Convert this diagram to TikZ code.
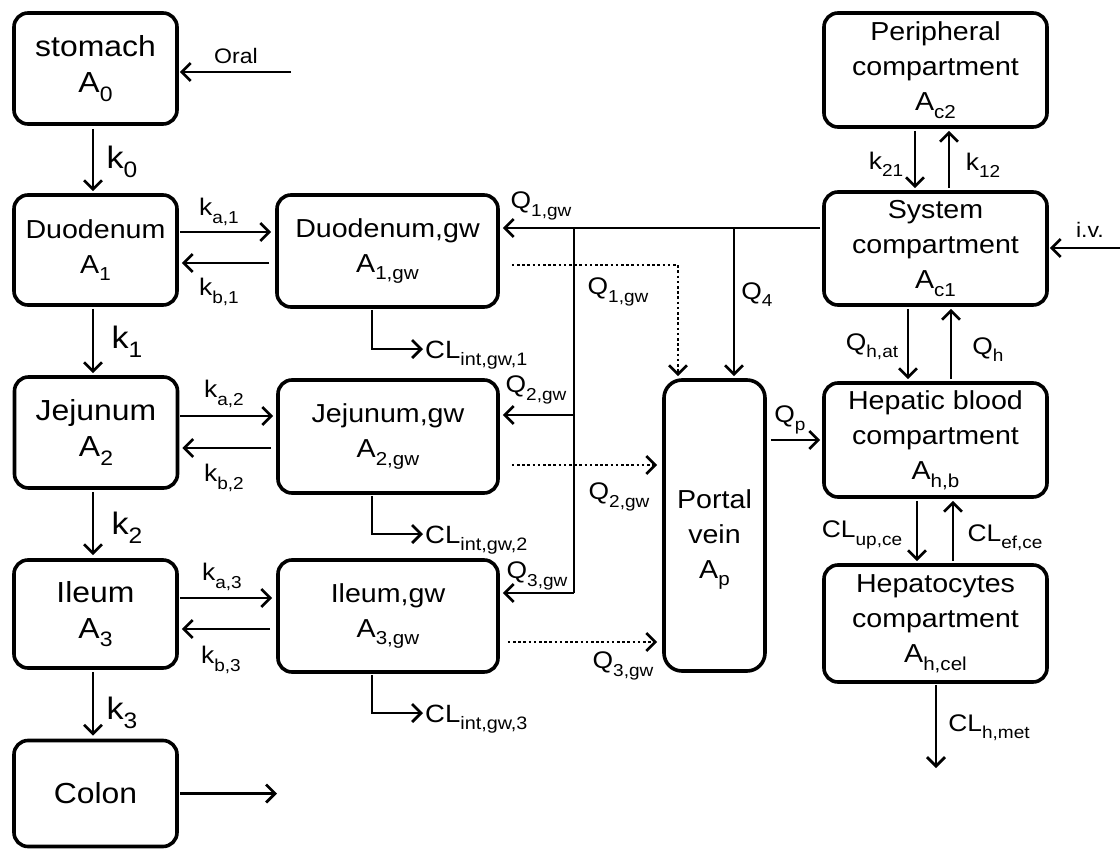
\documentclass[tikz,border=0pt]{standalone}
\usepackage{graphicx}
\usepackage{fontspec}
\setmainfont{Liberation Sans}[FakeStretch=1.1]
\usetikzlibrary{arrows.meta,calc}
\newcommand\lowsub[1]{\raisebox{-0.3em}{\scalebox{0.72}{#1}}}
\newcommand\fbig{\fontsize{29}{36}\selectfont}
\newcommand\fmed{\fontsize{26}{35}\selectfont}
\newcommand\fkk{\fontsize{31}{36}\selectfont}
\newcommand\flab{\fontsize{24}{28}\selectfont}
\newcommand\fcl{\fontsize{25}{28}\selectfont}
\newcommand\fsm{\fontsize{21}{26}\selectfont}
\tikzset{
  box/.style={draw, line width=3.6pt, rounded corners=14pt, inner sep=0pt, align=center},
  bigbox/.style={box, font=\fbig, minimum width=163pt},
  medbox/.style={box, font=\fmed},
  flow/.style={line width=2.7pt, -{Straight Barb[length=9pt,width=18pt]}},
  plain/.style={line width=2.7pt},
  dflow/.style={flow, dash pattern=on 2.6pt off 2.6pt},
  lab/.style={font=\flab, inner sep=0pt},
  klab/.style={font=\fkk, inner sep=0pt},
  cllab/.style={font=\fcl, inner sep=0pt, anchor=base west},
}
\begin{document}
\begin{tikzpicture}[x=1pt,y=-1pt]
\useasboundingbox (0,0) rectangle (1120,849);

% left column
\node[bigbox, minimum height=111pt] (stomach) at (95.5,68.5) {stomach\\A\lowsub{0}};
\node[medbox, minimum width=163pt, minimum height=110pt] (duo) at (95.5,250) {Duodenum\\A\lowsub{1}};
\node[bigbox, minimum height=111pt] (jej) at (96,432.5) {Jejunum\\A\lowsub{2}};
\node[bigbox, minimum height=108pt] (ile) at (95.5,614) {Ileum\\A\lowsub{3}};
\node[bigbox, minimum height=106pt] (colon) at (95.5,793.5) {Colon};

% gut wall column
\node[medbox, minimum width=221pt, minimum height=112pt] (dgw) at (387.5,251) {Duodenum,gw\\A\lowsub{1,gw}};
\node[medbox, minimum width=220pt, minimum height=113pt] (jgw) at (388,436.5) {Jejunum,gw\\A\lowsub{2,gw}};
\node[medbox, minimum width=220pt, minimum height=112pt] (igw) at (388,616) {Ileum,gw\\A\lowsub{3,gw}};

% portal vein
\node[box, rounded corners=18pt, minimum width=101pt, minimum height=291pt,
      label={[font=\fmed, align=center, yshift=-14pt]center:Portal\\vein\\A\lowsub{p}}] (portal) at (714.5,525.5) {};

% right column
\node[medbox, minimum width=223pt, minimum height=114pt] (peri) at (935.5,70) {Peripheral\\compartment\\A\lowsub{c2}};
\node[medbox, minimum width=223pt, minimum height=113pt] (sys) at (935.5,248.5) {System\\compartment\\A\lowsub{c1}};
\node[medbox, minimum width=223pt, minimum height=114pt] (hep) at (935.5,440) {Hepatic blood\\compartment\\A\lowsub{h,b}};
\node[medbox, minimum width=223pt, minimum height=117pt] (hcel) at (935.5,623.5) {Hepatocytes\\compartment\\A\lowsub{h,cel}};

% helper coordinates
\coordinate (lx) at (93,0);
\coordinate (oral) at (291,72);
\coordinate (colonout) at (277,793.5);
\coordinate (ya1) at (0,232);
\coordinate (yb1) at (0,263);
\coordinate (ya2) at (0,416);
\coordinate (yb2) at (0,448);
\coordinate (ya3) at (0,598);
\coordinate (yb3) at (0,629);
\coordinate (clx) at (372,0);
\coordinate (jn1) at (574,228);
\coordinate (jn4) at (734,228);
\coordinate (jn3) at (574,593);
\coordinate (yq2) at (0,415);
\coordinate (yd1) at (0,265);
\coordinate (dx) at (678,0);
\coordinate (yd2) at (0,465);
\coordinate (yd3) at (0,642);
\coordinate (yqp) at (0,440);
\coordinate (x21) at (915,0);
\coordinate (x12) at (949,0);
\coordinate (iv) at (1120,248);
\coordinate (xhat) at (908,0);
\coordinate (xh) at (951,0);
\coordinate (xup) at (917,0);
\coordinate (xef) at (953,0);
\coordinate (met) at (936,768);
\coordinate (xm) at (936,0);

% left column flows
\draw[flow, shorten >=1pt] (oral) -- (stomach.east |- oral);
\draw[flow, shorten <=3pt, shorten >=2pt] (stomach.south -| lx) -- (duo.north -| lx);
\draw[flow, shorten <=2pt, shorten >=2pt] (duo.south -| lx) -- (jej.north -| lx);
\draw[flow, shorten <=2pt, shorten >=3pt] (jej.south -| lx) -- (ile.north -| lx);
\draw[flow, shorten <=2pt, shorten >=3pt] (ile.south -| lx) -- (colon.north -| lx);
\draw[flow, shorten <=1pt] (colon.east) -- (colonout);

% absorption/back-flow
\draw[flow, shorten <=1pt, shorten >=4pt] (duo.east |- ya1) -- (dgw.west |- ya1);
\draw[flow, shorten <=6pt, shorten >=3pt] (dgw.west |- yb1) -- (duo.east |- yb1);
\draw[flow, shorten <=1pt, shorten >=3pt] (jej.east |- ya2) -- (jgw.west |- ya2);
\draw[flow, shorten <=5pt, shorten >=3pt] (jgw.west |- yb2) -- (jej.east |- yb2);
\draw[flow, shorten <=1pt, shorten >=4pt] (ile.east |- ya3) -- (igw.west |- ya3);
\draw[flow, shorten <=6pt, shorten >=3pt] (igw.west |- yb3) -- (ile.east |- yb3);

\node[lab] (ka1) at (219,212) {k\lowsub{a,1}};
\node[lab] (kb1) at (219,292) {k\lowsub{b,1}};
\node[lab] (ka2) at (224,394) {k\lowsub{a,2}};
\node[lab] (kb2) at (224,478) {k\lowsub{b,2}};
\node[lab] (ka3) at (222,577) {k\lowsub{a,3}};
\node[lab] (kb3) at (221,660) {k\lowsub{b,3}};
\node[klab] (k0) at (122,162) {k\lowsub{0}};
\node[klab] (k1) at (127,342) {k\lowsub{1}};
\node[klab] (k2) at (127,528) {k\lowsub{2}};
\node[klab] (k3) at (122,713) {k\lowsub{3}};
\node[font=\fsm, inner sep=0pt] (orallab) at (236,56) {Oral};

% gut wall clearance
\node[cllab] (cl1) at (425,358) {CL\lowsub{int,gw,1}};
\node[cllab] (cl2) at (425,543) {CL\lowsub{int,gw,2}};
\node[cllab] (cl3) at (425,722) {CL\lowsub{int,gw,3}};
\draw[flow, shorten <=1pt, shorten >=2pt] (dgw.south -| clx) |- ([yshift=9pt]cl1.base west);
\draw[flow, shorten <=1pt, shorten >=2pt] (jgw.south -| clx) |- ([yshift=9pt]cl2.base west);
\draw[flow, shorten <=1pt, shorten >=2pt] (igw.south -| clx) |- ([yshift=9pt]cl3.base west);

% blood flow network
\draw[flow, shorten <=2pt, shorten >=3pt] (sys.west |- jn1) -- (dgw.east |- jn1);
\draw[plain] (jn1) -- (jn3);
\draw[flow, shorten >=3pt] (jn3) -- (igw.east |- jn3);
\draw[flow, shorten >=3pt] (jn1 |- yq2) -- (jgw.east |- yq2);
\draw[flow, shorten >=2pt] (jn4) -- (portal.north -| jn4);

\draw[dflow, shorten <=12pt, shorten >=2pt] (dgw.east |- yd1) -| (portal.north -| dx);
\draw[dflow, shorten <=12pt, shorten >=5pt] (jgw.east |- yd2) -- (portal.west |- yd2);
\draw[dflow, shorten <=8pt, shorten >=5pt] (igw.east |- yd3) -- (portal.west |- yd3);
\draw[flow, shorten <=4pt, shorten >=2pt] (portal.east |- yqp) -- (hep.west |- yqp);

\node[lab] (q1a) at (541,206) {Q\lowsub{1,gw}};
\node[lab] (q1b) at (618,292) {Q\lowsub{1,gw}};
\node[lab] (q4) at (757,295) {Q\lowsub{4}};
\node[lab] (q2a) at (536,390) {Q\lowsub{2,gw}};
\node[lab] (q2b) at (619,497) {Q\lowsub{2,gw}};
\node[lab] (q3a) at (537,576) {Q\lowsub{3,gw}};
\node[lab] (q3b) at (623,666) {Q\lowsub{3,gw}};
\node[lab] (qp) at (790,420) {Q\lowsub{p}};

% right column flows
\draw[flow, shorten <=2pt, shorten >=2pt] (peri.south -| x21) -- (sys.north -| x21);
\draw[flow, shorten <=2pt, shorten >=2pt] (sys.north -| x12) -- (peri.south -| x12);
\draw[flow, shorten >=1pt] (iv) -- (sys.east |- iv);
\draw[flow, shorten <=2pt, shorten >=2pt] (sys.south -| xhat) -- (hep.north -| xhat);
\draw[flow, shorten <=2pt, shorten >=2pt] (hep.north -| xh) -- (sys.south -| xh);
\draw[flow, shorten <=2pt, shorten >=2pt] (hep.south -| xup) -- (hcel.north -| xup);
\draw[flow, shorten <=2pt, shorten >=2pt] (hcel.north -| xef) -- (hep.south -| xef);
\draw[flow, shorten <=1pt] (hcel.south -| xm) -- (met);

\node[lab] (k21) at (886,164) {k\lowsub{21}};
\node[lab] (k12) at (983,165) {k\lowsub{12}};
\node[font=\fsm, inner sep=0pt] (ivlab) at (1090,230) {i.v.};
\node[lab] (qhat) at (872,347) {Q\lowsub{h,at}};
\node[lab] (qh) at (988,350) {Q\lowsub{h}};
\node[lab] (clup) at (862,535) {CL\lowsub{up,ce}};
\node[lab] (clef) at (1005,538) {CL\lowsub{ef,ce}};
\node[lab] (clmet) at (989,728) {CL\lowsub{h,met}};
\end{tikzpicture}
\end{document}
